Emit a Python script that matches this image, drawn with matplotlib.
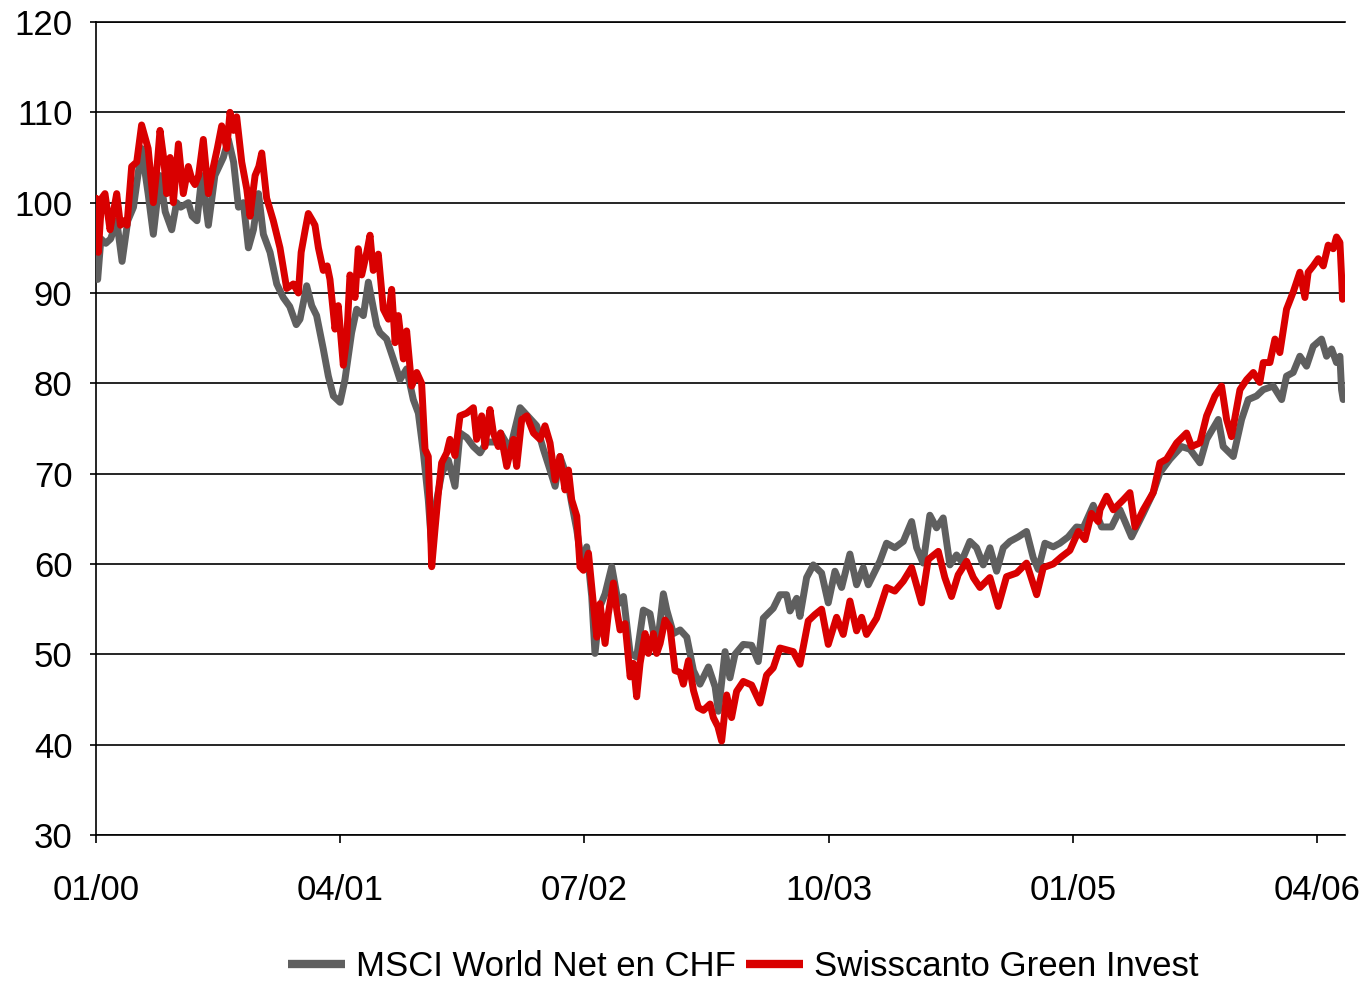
import matplotlib.pyplot as plt

plt.rcParams['font.family'] = ['Liberation Sans', 'DejaVu Sans']

# months since January 2000
msci_months = [0.0, 0.1, 0.3, 0.6, 0.9, 1.27, 1.6, 1.95, 2.3, 2.8, 3.2, 3.52, 3.93, 4.25, 4.65,
               4.95, 5.2, 5.67, 5.9, 6.2, 6.5, 6.9, 7.3, 7.82, 8.13, 8.45, 8.75, 9.05, 9.36,
               9.67, 9.98, 10.28, 10.69, 11.1, 11.5, 11.9, 12.3, 12.53, 12.94, 13.25, 13.55,
               13.96, 14.27, 14.58, 14.99, 15.29, 15.7, 16.01, 16.42, 16.73, 16.93, 17.24,
               17.44, 17.85, 18.26, 18.67, 19.08, 19.49, 19.8, 20.11, 20.41, 20.62, 20.92,
               21.23, 21.64, 22.05, 22.36, 22.77, 23.18, 23.59, 23.99, 24.61, 24.85, 25.43,
               26.05, 26.46, 27.07, 27.48, 27.89, 28.2, 28.5, 28.92, 29.22, 29.53, 29.84,
               30.14, 30.45, 30.65, 30.96, 31.27, 31.68, 32.09, 32.4, 32.81, 33.21, 33.62,
               34.03, 34.44, 34.85, 35.06, 35.47, 35.88, 36.29, 36.7, 37.1, 37.62, 38.03,
               38.23, 38.64, 38.94, 39.25, 39.76, 40.27, 40.68, 40.99, 41.6, 42.01, 42.42,
               42.63, 43.04, 43.24, 43.65, 44.06, 44.57, 44.98, 45.39, 45.8, 46.31, 46.72,
               47.13, 47.44, 48.15, 48.56, 49.07, 49.59, 50.1, 50.41, 50.81, 51.22, 51.63,
               52.04, 52.45, 52.86, 53.17, 53.68, 54.09, 54.5, 54.91, 55.32, 55.73, 56.14,
               56.65, 57.16, 57.57, 57.88, 58.29, 58.8, 59.21, 59.72, 60.23, 60.64, 61.26,
               61.77, 62.38, 62.9, 63.61, 64.33, 64.94, 65.35, 65.97, 66.68, 67.2, 67.81,
               68.22, 68.94, 69.24, 69.86, 70.37, 70.78, 71.29, 71.7, 72.31, 72.83, 73.13,
               73.54, 73.95, 74.36, 74.77, 75.28, 75.59, 75.9, 76.2, 76.41, 76.51, 76.61]
msci_values = [92.5, 91.5, 96.0, 95.5, 96.0, 98.0, 93.5, 98.0, 99.5, 106.0, 101.0, 96.5, 103.0,
               99.0, 97.0, 100.0, 99.5, 100.0, 98.5, 98.0, 103.0, 97.5, 103.0, 105.0, 107.0,
               104.5, 99.5, 100.0, 95.0, 97.0, 101.0, 96.5, 94.5, 91.0, 89.5, 88.5, 86.5, 87.1,
               90.8, 88.6, 87.5, 83.8, 80.8, 78.6, 77.9, 80.4, 85.6, 88.2, 87.5, 91.2, 89.3,
               86.4, 85.6, 84.9, 82.7, 80.4, 81.6, 78.2, 76.7, 72.3, 67.1, 61.9, 67.0, 70.0,
               71.5, 68.6, 74.5, 74.0, 73.0, 72.3, 73.5, 73.5, 74.5, 72.7, 77.3, 76.5, 75.3,
               72.7, 70.4, 68.6, 71.9, 69.7, 66.7, 63.8, 60.0, 61.9, 56.4, 50.1, 55.3, 56.7,
               59.7, 55.6, 56.4, 50.1, 49.7, 54.9, 54.5, 50.4, 56.7, 54.9, 52.3, 52.7, 51.9,
               48.2, 46.7, 48.6, 46.4, 43.7, 50.3, 47.4, 50.0, 51.1, 51.0, 49.2, 54.0, 55.1,
               56.6, 56.6, 54.8, 56.2, 54.2, 58.5, 59.9, 59.0, 55.7, 59.2, 57.4, 61.1, 57.7,
               59.6, 57.7, 60.3, 62.3, 61.8, 62.5, 64.7, 61.8, 60.1, 65.4, 64.0, 65.1, 59.9,
               61.0, 60.3, 62.5, 61.8, 59.9, 61.8, 59.2, 61.8, 62.5, 63.0, 63.6, 60.7, 59.4,
               62.3, 61.9, 62.3, 63.0, 64.1, 64.0, 66.5, 64.1, 64.1, 66.0, 63.0, 65.6, 67.9,
               70.1, 71.6, 73.0, 72.7, 71.2, 73.8, 76.0, 73.0, 71.9, 76.0, 78.2, 78.6, 79.3,
               79.7, 78.2, 80.8, 81.2, 83.0, 81.9, 84.1, 84.9, 83.0, 83.8, 82.3, 83.0, 79.3,
               78.2]

green_months = [0.0, 0.14, 0.35, 0.55, 0.86, 1.07, 1.27, 1.5, 1.68, 1.9, 2.19, 2.5, 2.8, 3.05,
                3.2, 3.52, 3.75, 3.93, 4.15, 4.34, 4.55, 4.75, 5.06, 5.36, 5.67, 5.9, 6.08,
                6.3, 6.59, 6.9, 7.21, 7.45, 7.72, 8.03, 8.23, 8.45, 8.64, 8.95, 9.26, 9.46,
                9.77, 10.0, 10.18, 10.48, 10.89, 11.3, 11.71, 12.12, 12.43, 12.6, 12.85, 13.04,
                13.3, 13.45, 13.66, 13.96, 14.2, 14.37, 14.68, 14.88, 15.05, 15.19, 15.4,
                15.6, 15.91, 16.11, 16.32, 16.63, 16.83, 17.03, 17.34, 17.65, 17.96, 18.16,
                18.37, 18.57, 18.88, 19.08, 19.39, 19.7, 20.0, 20.21, 20.41, 20.62, 20.82,
                21.03, 21.23, 21.54, 21.74, 22.05, 22.36, 22.77, 23.18, 23.38, 23.69, 23.89,
                24.2, 24.41, 24.71, 24.85, 25.23, 25.64, 25.84, 26.15, 26.46, 26.87, 27.28,
                27.58, 27.89, 28.2, 28.5, 28.81, 29.02, 29.22, 29.53, 29.73, 29.94, 30.25,
                30.55, 30.76, 30.96, 31.27, 31.47, 31.78, 31.99, 32.19, 32.5, 32.81, 33.01,
                33.21, 33.42, 33.73, 33.93, 34.24, 34.44, 34.65, 34.95, 35.26, 35.57, 35.88,
                36.08, 36.39, 36.7, 37.0, 37.31, 37.72, 37.92, 38.2, 38.43, 38.74, 39.04,
                39.35, 39.76, 40.27, 40.79, 41.19, 41.6, 42.01, 42.42, 42.83, 43.24, 43.75,
                44.16, 44.57, 44.98, 45.49, 45.9, 46.31, 46.72, 47.03, 47.33, 47.95, 48.56,
                49.07, 49.59, 50.1, 50.71, 51.12, 51.74, 52.14, 52.55, 52.96, 53.48, 53.89,
                54.3, 54.91, 55.42, 55.93, 56.55, 57.16, 57.78, 58.19, 58.8, 59.31, 59.82,
                60.34, 60.75, 61.15, 61.56, 61.67, 62.08, 62.49, 63.1, 63.51, 63.82, 64.33,
                64.94, 65.35, 65.76, 66.38, 66.99, 67.3, 67.81, 68.22, 68.73, 69.14, 69.45,
                69.75, 70.27, 70.68, 71.09, 71.49, 71.7, 72.11, 72.42, 72.72, 73.13, 73.54,
                73.95, 74.26, 74.46, 74.77, 75.08, 75.39, 75.69, 76.0, 76.2, 76.41, 76.51,
                76.57]
green_values = [100.5, 94.5, 100.5, 101.0, 97.0, 99.0, 101.0, 97.5, 98.0, 97.5, 104.0, 104.5,
                108.6, 107.0, 106.0, 100.0, 104.0, 108.0, 105.0, 101.0, 105.0, 100.0, 106.5,
                101.0, 104.0, 102.5, 102.0, 103.0, 107.0, 101.0, 104.0, 106.0, 108.5, 106.0,
                110.0, 108.0, 109.5, 104.5, 101.5, 98.5, 103.0, 104.0, 105.5, 100.5, 98.0,
                95.0, 90.5, 91.0, 90.0, 94.5, 97.0, 98.8, 98.0, 97.5, 95.0, 92.5, 93.0, 91.5,
                86.0, 88.6, 85.0, 82.0, 85.0, 92.0, 89.5, 94.9, 92.0, 94.5, 96.4, 92.5, 94.3,
                88.2, 87.1, 90.4, 84.5, 87.5, 82.7, 85.8, 79.7, 81.2, 80.0, 72.7, 71.9, 59.7,
                63.8, 67.9, 71.2, 72.3, 73.8, 72.0, 76.4, 76.7, 77.3, 73.8, 76.4, 73.0, 77.1,
                74.5, 73.0, 74.5, 70.8, 73.8, 70.8, 76.0, 76.4, 74.5, 73.8, 75.3, 73.4, 69.3,
                71.9, 68.2, 70.4, 67.1, 65.3, 59.7, 59.3, 61.2, 55.6, 51.9, 55.6, 51.2, 54.5,
                57.9, 54.9, 52.7, 53.4, 47.5, 49.0, 45.3, 49.0, 52.3, 50.1, 52.3, 50.1, 51.2,
                53.8, 53.0, 48.2, 48.0, 46.7, 49.3, 46.0, 44.1, 43.8, 44.5, 43.0, 42.0, 40.4,
                45.5, 43.0, 45.9, 47.0, 46.6, 44.6, 47.7, 48.5, 50.7, 50.5, 50.3, 48.9, 53.7,
                54.4, 55.0, 51.1, 54.1, 52.2, 55.9, 52.6, 54.1, 52.2, 54.0, 57.4, 57.0, 58.1,
                59.6, 55.7, 60.5, 61.4, 58.5, 56.4, 58.8, 60.3, 58.5, 57.4, 58.5, 55.3, 58.6,
                59.0, 60.1, 56.6, 59.6, 60.0, 60.8, 61.5, 63.6, 62.7, 65.6, 64.7, 66.0, 67.5,
                66.0, 67.1, 67.9, 64.1, 66.0, 67.9, 71.2, 71.6, 73.4, 74.5, 73.0, 73.4, 76.4,
                78.6, 79.7, 76.0, 74.1, 79.3, 80.4, 81.2, 80.1, 82.3, 82.3, 84.9, 83.4, 88.2,
                90.1, 92.3, 89.5, 92.3, 93.0, 93.8, 93.0, 95.3, 94.9, 96.2, 95.6, 91.9, 89.3]

tick_months = [0, 15, 30, 45, 60, 75]
tick_labels = ['01/00', '04/01', '07/02', '10/03', '01/05', '04/06']
y_ticks = [30, 40, 50, 60, 70, 80, 90, 100, 110, 120]

fig = plt.figure(figsize=(13.66, 9.82), dpi=100)
ax = fig.add_axes([0.0703, 0.1497, 0.9143, 0.8279])

ax.plot(msci_months, msci_values, color='#5f5f5f', lw=5.0,
        solid_joinstyle='round', solid_capstyle='round',
        label='MSCI World Net en CHF', zorder=3)
ax.plot(green_months, green_values, color='#d90000', lw=5.0,
        solid_joinstyle='round', solid_capstyle='round',
        label='Swisscanto Green Invest', zorder=4)

ax.set_xlim(0, 76.72)
ax.set_ylim(30, 120)
ax.set_yticks(y_ticks)
ax.set_xticks(tick_months)
ax.set_xticklabels(tick_labels)

ax.yaxis.grid(True, color='black', lw=1.2)
ax.set_axisbelow(True)
ax.spines['right'].set_visible(False)
for s in ['left', 'bottom', 'top']:
    ax.spines[s].set_linewidth(1.2)
    ax.spines[s].set_color('black')

ax.tick_params(axis='y', direction='out', length=4, width=1.2, labelsize=25, pad=13)
ax.tick_params(axis='x', direction='out', length=6, width=1.2, labelsize=25, pad=22)

leg = ax.legend(loc='center', bbox_to_anchor=(0.518, -0.162), ncol=2, frameon=False,
                fontsize=25, handlelength=1.65, handletextpad=0.3, columnspacing=0.3)
for h in leg.get_lines():
    h.set_linewidth(6)
    h.set_solid_capstyle('butt')

fig.savefig('out.png', dpi=100)
